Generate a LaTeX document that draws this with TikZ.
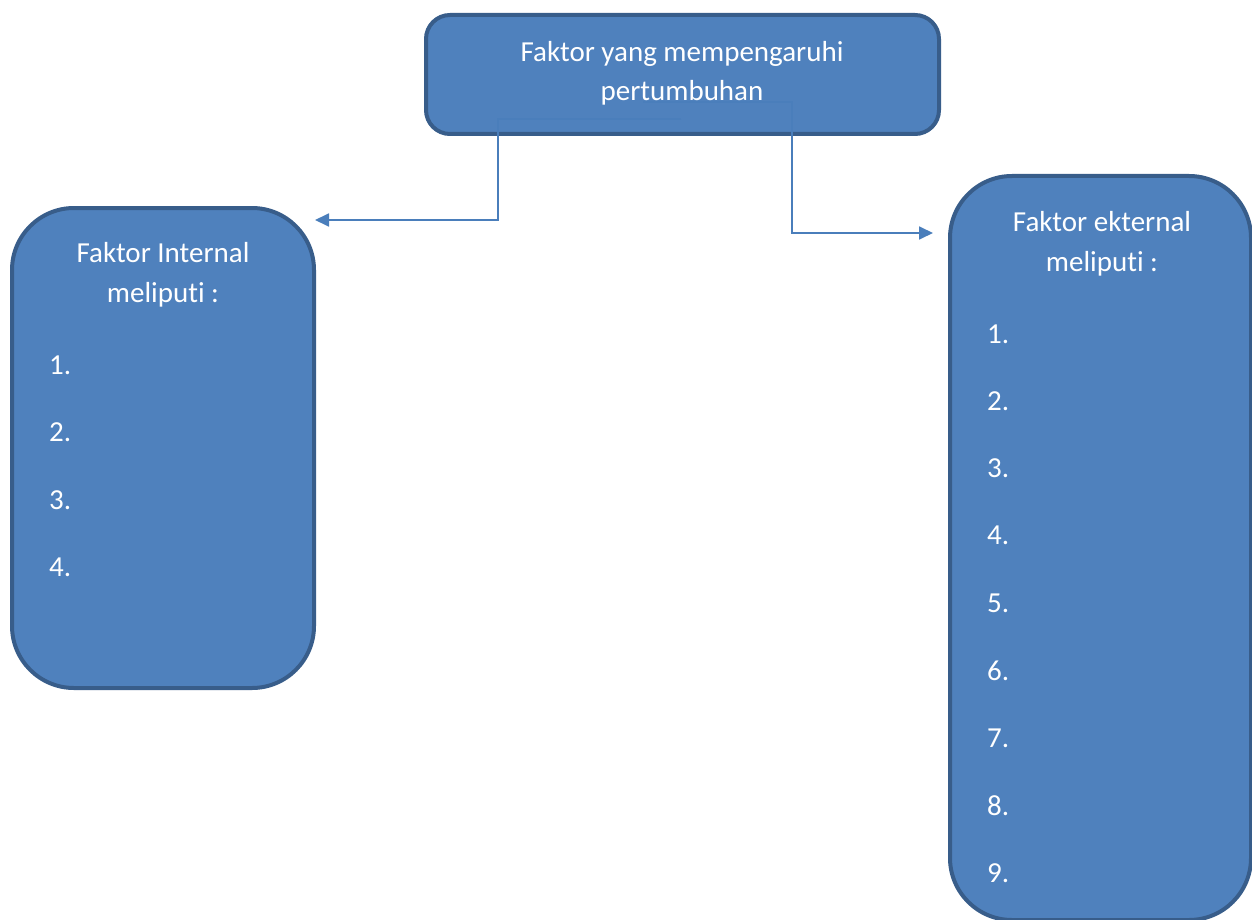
\documentclass[tikz,border=0pt]{standalone}
\usepackage{fontspec}
\setmainfont{Carlito}[Ligatures=NoCommon]
\usetikzlibrary{arrows.meta}
\definecolor{boxfill}{HTML}{4F81BD}
\definecolor{boxline}{HTML}{385D8A}
\definecolor{connline}{HTML}{4A7EBB}
\begin{document}
\begin{tikzpicture}[x=1pt,y=-1pt,
  box/.style={draw=boxline,fill=boxfill,line width=4pt,inner sep=0pt},
  lbl/.style={text=white,font=\fontsize{29}{40}\selectfont,inner sep=0pt},
  conn/.style={draw=connline,line width=1.8pt,-{Triangle[length=14pt,width=13pt]}}]
\useasboundingbox (0,0) rectangle (1252,920);
\clip (0,0) rectangle (1252,920);
\fill[white] (0,0) rectangle (1252,920);
% boxes
\node[box,rounded corners=24pt,minimum width=513pt,minimum height=119pt] (top) at (682.5,74.5) {};
\node[box,rounded corners=62pt,minimum width=302pt,minimum height=480pt] (lb) at (163,448) {};
\node[box,rounded corners=62pt,minimum width=301pt,minimum height=744pt] (rb) at (1100.5,548) {};
% top title
\node[lbl,anchor=base] (t1) at (682,62) {Faktor yang mempengaruhi};
\node[lbl,anchor=base] (t2) at (682,101) {pertumbuhan};
% left title and items
\node[lbl,anchor=base] (l1) at (163,262) {Faktor Internal};
\node[lbl,anchor=base] (l2) at (163,302) {meliputi :};
\foreach \n/\y in {1/374,2/441,3/509,4/576}
  \node[lbl,anchor=base west] (li\n) at (49,\y) {\n.};
% right title and items
\node[lbl,anchor=base] (r1) at (1102,231) {Faktor ekternal};
\node[lbl,anchor=base] (r2) at (1102,271) {meliputi :};
\foreach \n/\y in {1/343,2/410,3/477,4/544,5/612,6/680,7/747,8/815,9/882}
  \node[lbl,anchor=base west] (ri\n) at (987,\y) {\n.};
% connectors
\coordinate (lstart) at (681,119);
\coordinate (lbend) at (498,119);
\coordinate (ltip) at (315,220);
\coordinate (rstart) at (643,102);
\coordinate (rbend) at (792,102);
\coordinate (rtip) at (933,233);
\draw[conn] (lstart) -- (lbend) |- (ltip);
\draw[conn] (rstart) -- (rbend) |- (rtip);
\end{tikzpicture}
\end{document}
